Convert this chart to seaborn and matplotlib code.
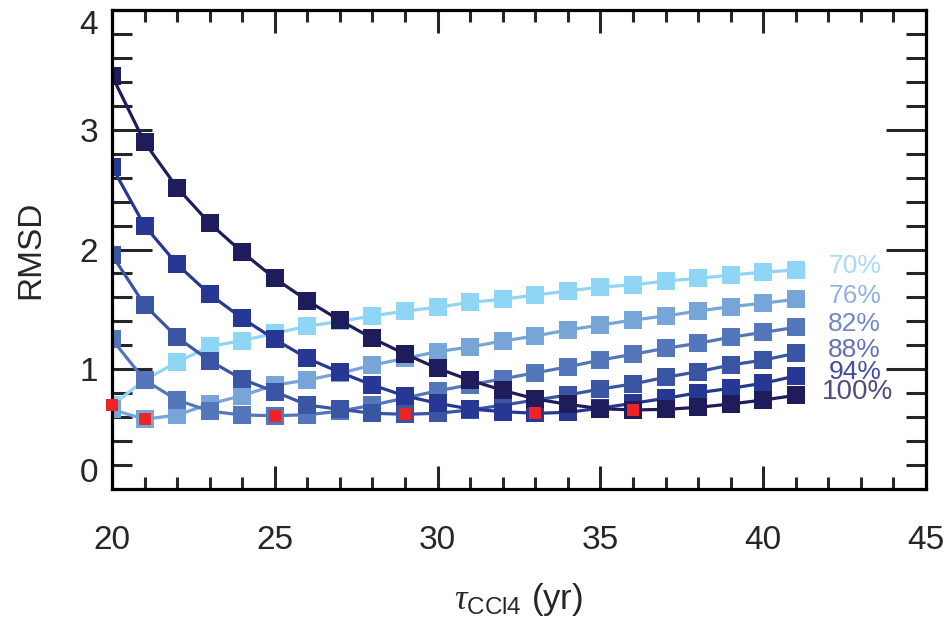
import numpy as np
import pandas as pd
import matplotlib
matplotlib.use("Agg")
import matplotlib.pyplot as plt
from matplotlib.ticker import MultipleLocator
import seaborn as sns


# ---------------------------------------------------------------------------
# Data
# ---------------------------------------------------------------------------

tau = list(range(20, 42))
fractions = ["70%", "76%", "82%", "88%", "94%", "100%"]

rmsd_70 = [0.70, 0.91, 1.06, 1.19, 1.24, 1.30, 1.36, 1.40, 1.445, 1.486, 1.517,
           1.559, 1.584, 1.62, 1.653, 1.687, 1.704, 1.737, 1.759, 1.787, 1.81, 1.829]
rmsd_76 = [0.665, 0.582, 0.618, 0.71, 0.78, 0.868, 0.91, 0.966, 1.035, 1.091, 1.147,
           1.186, 1.236, 1.278, 1.328, 1.369, 1.411, 1.445, 1.486, 1.523, 1.551, 1.584]
rmsd_82 = [1.25, 0.91, 0.743, 0.65, 0.618, 0.612, 0.62, 0.65, 0.70, 0.76, 0.82,
           0.87, 0.92, 0.97, 1.02, 1.077, 1.125, 1.175, 1.217, 1.267, 1.308, 1.35]
rmsd_88 = [1.954, 1.537, 1.267, 1.071, 0.916, 0.813, 0.701, 0.665, 0.632, 0.624, 0.632,
           0.66, 0.70, 0.743, 0.785, 0.835, 0.877, 0.933, 0.98, 1.035, 1.077, 1.133]
rmsd_94 = [2.69, 2.199, 1.876, 1.626, 1.425, 1.25, 1.091, 0.974, 0.868, 0.777, 0.716,
           0.668, 0.646, 0.632, 0.64, 0.675, 0.716, 0.757, 0.804, 0.841, 0.883, 0.944]
rmsd_100 = [3.45, 2.895, 2.516, 2.219, 1.977, 1.759, 1.573, 1.408, 1.258, 1.127, 1.008,
            0.908, 0.824, 0.752, 0.707, 0.671, 0.66, 0.665, 0.682, 0.71, 0.743, 0.782]

line_colors = ["#8fd5f5", "#78a5d8", "#5477bb", "#3a55a4", "#263894", "#1f1c5c"]
label_colors = ["#a6dbf4", "#8eb1dd", "#7188c5", "#6272b2", "#3f4e9a", "#4e4d7e"]

series = [rmsd_70, rmsd_76, rmsd_82, rmsd_88, rmsd_94, rmsd_100]

df = pd.concat(
    [pd.DataFrame({"tau": tau, "rmsd": vals, "frac": name})
     for name, vals in zip(fractions, series)],
    ignore_index=True,
)

# minimum of every curve gets a red marker
minima = df.loc[df.groupby("frac", sort=False)["rmsd"].idxmin()]

# ---------------------------------------------------------------------------
# Plot
# ---------------------------------------------------------------------------

sns.set_style("white")
plt.rcParams["font.family"] = ["Liberation Sans", "DejaVu Sans"]
plt.rcParams["mathtext.fontset"] = "custom"
plt.rcParams["mathtext.rm"] = "Liberation Sans"
plt.rcParams["mathtext.it"] = "Liberation Serif:italic"

fig = plt.figure(figsize=(9.49, 6.25), dpi=100)
ax = fig.add_axes([112 / 949, 1 - 489 / 625, 814 / 949, 479 / 625])

sns.lineplot(data=df, x="tau", y="rmsd", hue="frac", hue_order=fractions,
             palette=line_colors, marker="s", markersize=12.5, markeredgewidth=0,
             linewidth=2.3, legend=False, sort=False, ax=ax)

sns.scatterplot(data=minima, x="tau", y="rmsd", color="#ee2326", marker="s",
                s=80, linewidth=0, zorder=10, clip_on=False, legend=False, ax=ax)

# curve labels at the right end (the 100% one is a bit bigger in the original)
for name, vals, col in zip(fractions, series, label_colors):
    big = name == "100%"
    ax.text(tau[-1] + (0.8 if big else 1.0), vals[-1] + 0.03, name, color=col,
            fontsize=20 if big else 19, ha="left", va="center")

ax.set_xlim(20, 45)
ax.set_ylim(0, 4)
ax.xaxis.set_major_locator(MultipleLocator(5))
ax.xaxis.set_minor_locator(MultipleLocator(1))
ax.yaxis.set_major_locator(MultipleLocator(1))
ax.yaxis.set_minor_locator(MultipleLocator(0.2))

ax.tick_params(axis="x", which="both", direction="in", top=True, bottom=True,
               width=2.2, labelsize=24, pad=26)
ax.tick_params(axis="x", which="major", length=16.5)
ax.tick_params(axis="x", which="minor", length=8.6)
ax.tick_params(axis="y", which="both", direction="in", left=True, right=True,
               width=2.2, labelsize=24, pad=10)
ax.tick_params(axis="y", which="major", length=28.8)
ax.tick_params(axis="y", which="minor", length=14.4)

for spine in ax.spines.values():
    spine.set_linewidth(2.3)
    spine.set_color("black")

ax.set_xlabel(r"$\tau_{\mathrm{CCl4}}$ (yr)", fontsize=25, labelpad=18)
ax.set_ylabel("RMSD", fontsize=24, labelpad=24)

# IDL-style end labels kept inside the box
fig.canvas.draw()
for t, v in zip(ax.yaxis.get_major_ticks(), ax.get_yticks()):
    if np.isclose(v, 0):
        t.label1.set_va("bottom")
    elif np.isclose(v, 4):
        t.label1.set_va("top")

fig.savefig("out.png", dpi=100)
